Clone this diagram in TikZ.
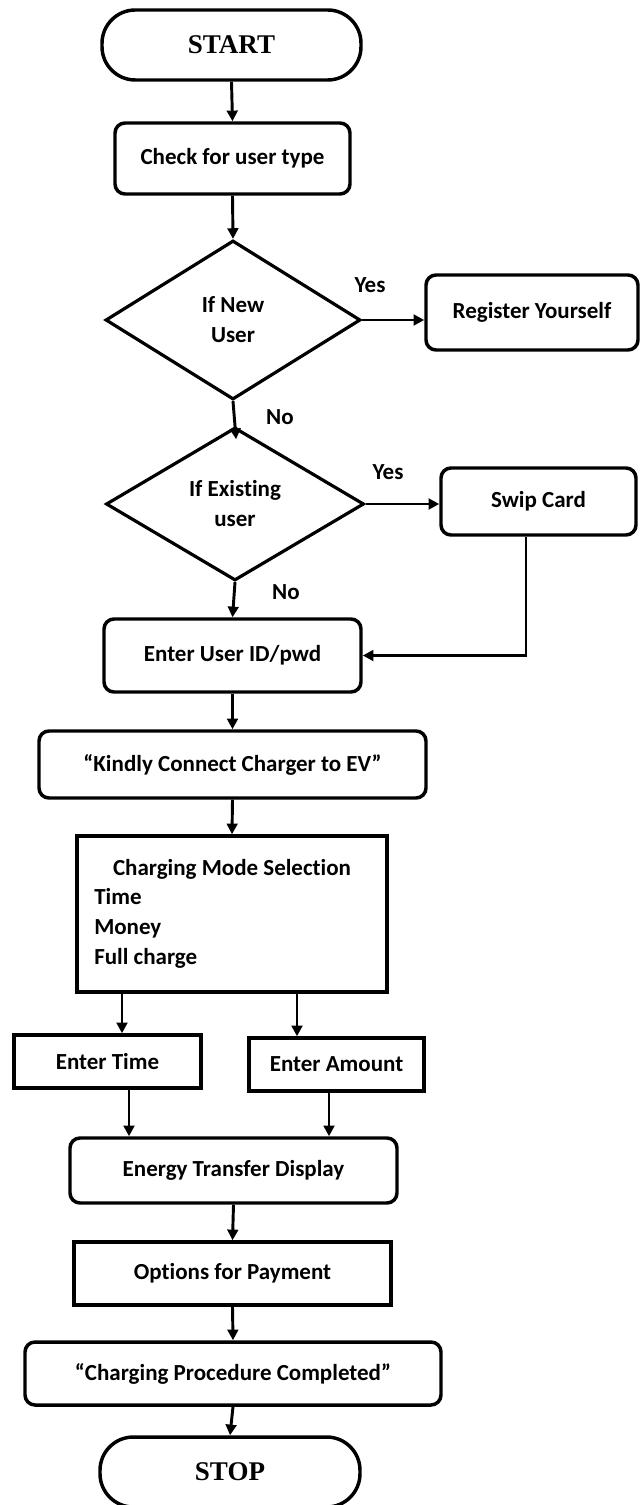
\documentclass[tikz,border=0pt]{standalone}
\usepackage{fontspec}
\setmainfont{Carlito}[Ligatures=NoCommon]
\newfontfamily\termfont{Liberation Serif}
\usetikzlibrary{shapes.geometric,arrows.meta}

\begin{document}
\begin{tikzpicture}[x=0.75pt,y=-0.75pt,
  wh/.style 2 args={minimum width=#1*0.75pt, minimum height=#2*0.75pt},
  txt/.style={font=\bfseries\fontsize{17.25}{22.5}\selectfont},
  base/.style={draw=black, line width=2.6pt, inner sep=0pt, align=center, txt},
  term/.style={base, rounded corners=25pt,
    font=\termfont\bfseries\fontsize{20.25}{24}\selectfont},
  roundbox/.style={base, rounded corners=7.5pt},
  sqbox/.style={base},
  decision/.style={base, diamond, line width=2.4pt},
  arr/.style={line width=2.2pt, -{Triangle[length=8pt,width=8pt]}},
  lbl/.style={inner sep=0pt, txt}
]
\useasboundingbox (0,0) rectangle (640,1505);

% main column
\node[term, wh={259}{70}] (start) at (231.5,45) {START};
\node[roundbox, wh={235}{71}] (check) at (232.5,158.5) {Check for user type};
\node[decision, wh={255}{159}] (d1) at (233,320) {If New\\User};
\node[roundbox, wh={212}{75}] (reg) at (532,312.5) {Register Yourself};
\node[decision, wh={258}{153}] (d2) at (235,504) {If Existing\\user};
\node[roundbox, wh={195}{67}] (swip) at (538.5,501.5) {Swip Card};
\node[roundbox, wh={257}{73}] (uid) at (232.5,655.5) {Enter User ID/pwd};
\node[roundbox, wh={387}{67}] (conn) at (232.5,764.5) {“Kindly Connect Charger to EV”};
\node[sqbox, wh={310}{156}] (mode) at (232,914) {};
\node[lbl] (modetitle) at (232,869) {Charging Mode Selection};
\node[lbl, anchor=north west, align=left] (modelist) at (94,888)
  {Time\\Money\\Full charge};
\node[sqbox, wh={187}{53}] (etime) at (107.5,1061.5) {Enter Time};
\node[sqbox, wh={175}{53}] (eamt) at (336.5,1064.5) {Enter Amount};
\node[roundbox, wh={327}{65}] (disp) at (233.5,1170.5) {Energy Transfer Display};
\node[sqbox, wh={317}{63}] (pay) at (232.5,1273.5) {Options for Payment};
\node[roundbox, wh={416}{63}] (done) at (233,1373.5) {“Charging Procedure Completed”};
\node[term, wh={260}{70}] (stop) at (230,1472) {STOP};

% branch labels
\node[lbl] (yes1) at (370,285) {Yes};
\node[lbl] (no1) at (280,417) {No};
\node[lbl] (yes2) at (388,472) {Yes};
\node[lbl] (no2) at (286,592) {No};

% x positions of the split connectors
\coordinate (xt1) at (122,0);
\coordinate (xa1) at (297,0);
\coordinate (xt2) at (129,0);
\coordinate (xa2) at (329,0);
\coordinate (xsw) at (526,0);

% connectors
\draw[arr] (start.south) -- (check.north);
\draw[arr] (check.south) -- (d1.north);
\draw[arr] (d1.east) -- (d1.east -| reg.west);
\draw[arr, shorten >=-10pt] (d1.south) -- (d2.north);
\draw[arr] (d2.east) -- (d2.east -| swip.west);
\draw[arr] (d2.south) -- (uid.north);
\draw[arr] (swip.south -| xsw) |- (uid.east);
\draw[arr] (uid.south) -- (conn.north);
\draw[arr] (conn.south) -- (mode.north);
\draw[arr] (mode.south -| xt1) -- (etime.north -| xt1);
\draw[arr] (mode.south -| xa1) -- (eamt.north -| xa1);
\draw[arr] (etime.south -| xt2) -- (disp.north -| xt2);
\draw[arr] (eamt.south -| xa2) -- (disp.north -| xa2);
\draw[arr] (disp.south) -- (pay.north);
\draw[arr] (pay.south) -- (done.north);
\draw[arr] (done.south) -- (stop.north);
\end{tikzpicture}
\end{document}
